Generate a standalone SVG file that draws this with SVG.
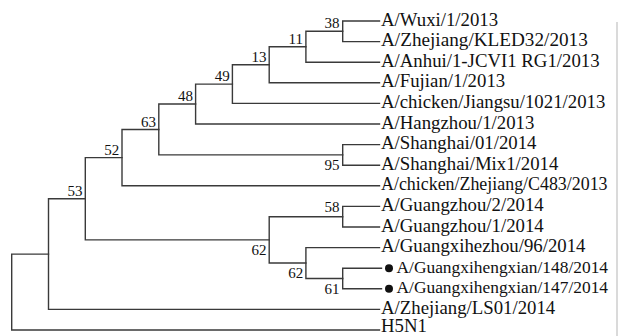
<svg xmlns="http://www.w3.org/2000/svg" width="619" height="336" viewBox="0 0 619 336">
<style>
.br{fill:none;stroke:#3a3a3a;stroke-width:1.4;stroke-linecap:square}
.lf{font-family:"Liberation Serif","Times New Roman",serif;font-size:18.8px;fill:#111}
.sm{font-size:17.4px}
.bs{font-family:"Liberation Serif","Times New Roman",serif;font-size:15px;fill:#111;text-anchor:end}
.dot{fill:#111}
</style>
<rect width="619" height="336" fill="#fff"/>
<line x1="617" y1="22" x2="617" y2="336" stroke="#b5b5b5" stroke-width="1"/>
<g id="connectors">
<path class="br" d="M379.5 21 H342.7 V41.6 H379.5"/>
<path class="br" d="M342.7 31.3 H305.9 V62.2 H379.5"/>
<path class="br" d="M305.9 46.75 H269.2 V82.8 H379.5"/>
<path class="br" d="M269.2 64.78 H232.4 V103.4 H379.5"/>
<path class="br" d="M232.4 84.09 H195.6 V124 H379.5"/>
<path class="br" d="M379.5 144.6 H342.7 V165.2 H379.5"/>
<path class="br" d="M195.6 104.05 H158.8 V154.9 H342.7"/>
<path class="br" d="M158.8 129.47 H122 V185.8 H379.5"/>
<path class="br" d="M379.5 206.4 H342.7 V227 H379.5"/>
<path class="br" d="M381.5 268.2 H342.7 V288.8 H381.5"/>
<path class="br" d="M379.5 247.6 H305.9 V278.5 H342.7"/>
<path class="br" d="M342.7 216.7 H269.2 V263.05 H305.9"/>
<path class="br" d="M122 157.64 H85.3 V239.88 H269.2"/>
<path class="br" d="M85.3 198.76 H48.5 V309.4 H379.5"/>
<path class="br" d="M48.5 254.08 H11.7 V330 H379.5"/>
</g>
<g id="bootstrap">
<text class="bs" x="339.5" y="28">38</text>
<text class="bs" x="303" y="43.5">11</text>
<text class="bs" x="266.5" y="61.5">13</text>
<text class="bs" x="229.7" y="81">49</text>
<text class="bs" x="192.9" y="101">48</text>
<text class="bs" x="156.1" y="126.5">63</text>
<text class="bs" x="119.3" y="154.5">52</text>
<text class="bs" x="82.6" y="195.5">53</text>
<text class="bs" x="339.5" y="170">95</text>
<text class="bs" x="339.5" y="211.5">58</text>
<text class="bs" x="266.5" y="255">62</text>
<text class="bs" x="303.2" y="277.5">62</text>
<text class="bs" x="339.5" y="293.5">61</text>
</g>
<g id="leaf-wuxi"><text class="lf" x="381" y="25.5">A/Wuxi/1/2013</text></g>
<g id="leaf-kled32"><text class="lf" x="381" y="46.1" style="font-size:19.2px">A/Zhejiang/KLED32/2013</text></g>
<g id="leaf-anhui"><text class="lf" x="381" y="66.7">A/Anhui/1-JCVI1 RG1/2013</text></g>
<g id="leaf-fujian"><text class="lf" x="381" y="87.3">A/Fujian/1/2013</text></g>
<g id="leaf-jiangsu"><text class="lf" x="381" y="107.9">A/chicken/Jiangsu/1021/2013</text></g>
<g id="leaf-hangzhou"><text class="lf" x="381" y="128.5">A/Hangzhou/1/2013</text></g>
<g id="leaf-shanghai01"><text class="lf" x="381" y="149.1">A/Shanghai/01/2014</text></g>
<g id="leaf-shanghaimix1"><text class="lf" x="381" y="169.7">A/Shanghai/Mix1/2014</text></g>
<g id="leaf-c483"><text class="lf" x="381" y="190.3" style="font-size:17.9px">A/chicken/Zhejiang/C483/2013</text></g>
<g id="leaf-gz2"><text class="lf" x="381" y="210.9">A/Guangzhou/2/2014</text></g>
<g id="leaf-gz1"><text class="lf" x="381" y="231.5">A/Guangzhou/1/2014</text></g>
<g id="leaf-hezhou"><text class="lf" x="381" y="252.1">A/Guangxihezhou/96/2014</text></g>
<g id="leaf-148"><circle class="dot" cx="389" cy="268.2" r="4"/><text class="lf sm" x="396.5" y="272.5">A/Guangxihengxian/148/2014</text></g>
<g id="leaf-147"><circle class="dot" cx="389" cy="288.8" r="4"/><text class="lf sm" x="396.5" y="293.1">A/Guangxihengxian/147/2014</text></g>
<g id="leaf-ls01"><text class="lf" x="381" y="313.9">A/Zhejiang/LS01/2014</text></g>
<g id="leaf-h5n1"><text class="lf" x="381" y="332">H5N1</text></g>
</svg>
